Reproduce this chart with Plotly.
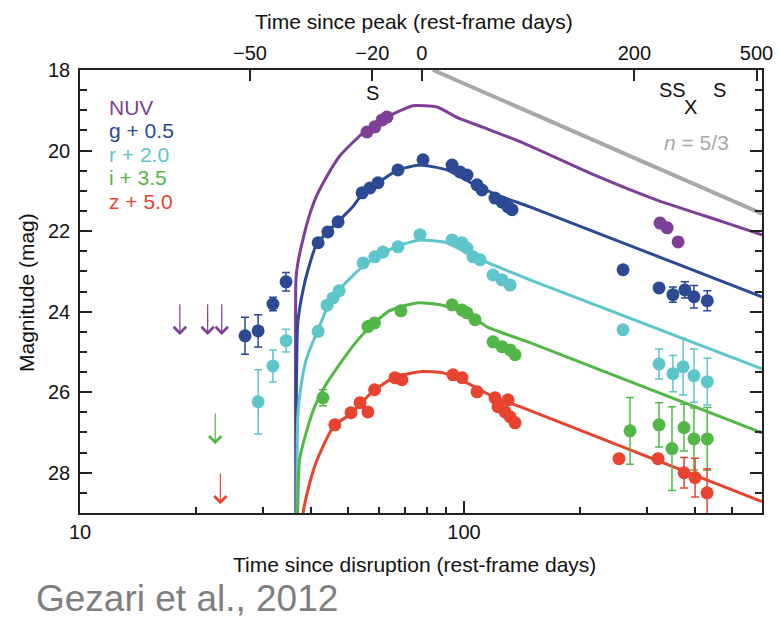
import math
import plotly.graph_objects as go

# ---------------- data ----------------
# model light curves (time since disruption [d], magnitude)
nuv_curve_t = [36.5, 36.5, 36.8, 37.7, 39.25, 41.25, 43.4, 47.5, 54.6, 63.0, 73.6, 85.1, 96.5, 114.8, 142.4, 212.9, 318.2, 472.7, 597]
nuv_curve_mag = [30, 23.21, 22.88, 22.38, 21.72, 21.14, 20.73, 20.13, 19.56, 19.17, 18.89, 18.92, 19.19, 19.46, 19.81, 20.56, 21.23, 21.77, 22.09]

g_curve_t = [36.6, 36.6, 36.9, 38.1, 39.25, 41.25, 44.2, 47.0, 51.4, 54.3, 57.25, 60.3, 67.3, 76.8, 90.3, 105.5, 124.1, 148.5, 597]
g_curve_mag = [30, 26.01, 24.28, 23.46, 22.96, 22.34, 22.01, 21.76, 21.39, 21.08, 20.90, 20.77, 20.48, 20.36, 20.48, 20.83, 21.13, 21.40, 23.63]

r_curve_t = [36.7, 36.9, 37.6, 38.8, 40.2, 41.7, 44.2, 47.0, 54.3, 60.4, 67.3, 76.8, 90.3, 105.5, 124.1, 148.5, 597]
r_curve_mag = [30, 26.60, 25.86, 25.20, 24.80, 24.45, 23.86, 23.48, 22.89, 22.59, 22.37, 22.22, 22.29, 22.62, 22.91, 23.21, 25.42]

i_curve_t = [36.8, 36.9, 37.3, 38.8, 40.85, 43.4, 47.0, 51.9, 56.2, 63.4, 69.4, 76.8, 86.6, 101.8, 114.8, 148.5, 597]
i_curve_mag = [30, 28.84, 27.68, 27.01, 26.36, 25.86, 25.36, 24.80, 24.43, 24.00, 23.86, 23.78, 23.83, 24.03, 24.38, 24.77, 27.01]

z_curve_t = [37.7, 38.1, 39.25, 40.85, 42.9, 46.1, 50.4, 53.5, 57.4, 63.4, 68.1, 76.8, 88.2, 101.8, 119.0, 139.9, 597]
z_curve_mag = [30, 29.0, 28.42, 27.84, 27.35, 26.81, 26.56, 26.31, 26.01, 25.72, 25.59, 25.49, 25.52, 25.77, 26.11, 26.36, 28.72]

# power-law reference line, n = 5/3
gray_t = [83.0, 597]
gray_mag = [18.0, 21.57]

# photometry
nuv_t = [55.9, 58.6, 61.2, 63.0, 324, 338, 361]
nuv_mag = [19.54, 19.41, 19.24, 19.17, 21.80, 21.92, 22.27]
nuv_err = [0, 0, 0, 0, 0, 0, 0]

g_t = [26.9, 29.1, 31.8, 34.4, 41.7, 44.2, 47.0, 54.3, 56.9, 59.7, 67.3, 78.2,
       93.1, 97.6, 101.8, 108.1, 111.4, 120.4, 125.6, 130.2, 133.4,
       259.5, 322, 350, 376, 397, 430]
g_mag = [24.60, 24.48, 23.81, 23.26, 22.29, 22.02, 21.77, 21.05, 20.93, 20.80, 20.48, 20.23,
         20.36, 20.53, 20.61, 20.85, 20.98, 21.18, 21.28, 21.40, 21.47,
         22.96, 23.41, 23.58, 23.46, 23.63, 23.73]
g_err = [0.46, 0.40, 0.17, 0.23, 0, 0, 0, 0, 0, 0, 0, 0,
         0, 0, 0, 0, 0, 0, 0, 0, 0,
         0, 0, 0.19, 0.20, 0.28, 0.25]

r_t = [29.1, 31.8, 34.4, 41.7, 44.0, 45.6, 47.3, 54.6, 58.6, 61.5, 67.3, 76.8,
       93.1, 98.8, 101.8, 105.5, 110.1, 119.0, 125.6, 131.8,
       259.5, 322, 350, 372, 397, 430]
r_mag = [26.24, 25.35, 24.72, 24.49, 23.84, 23.66, 23.48, 22.79, 22.64, 22.52, 22.39, 22.09,
         22.22, 22.29, 22.42, 22.64, 22.71, 23.09, 23.21, 23.34,
         24.45, 25.30, 25.54, 25.37, 25.59, 25.74]
r_err = [0.80, 0.40, 0.28, 0, 0, 0, 0, 0, 0, 0, 0, 0,
         0, 0, 0, 0, 0, 0, 0, 0,
         0, 0.37, 0.45, 0.70, 0.66, 0.58]

i_t = [42.9, 56.2, 58.5, 68.5, 93.1, 98.8, 101.8, 106.8, 119.0, 125.6, 131.8, 135.8,
       270.6, 322, 348, 374, 397, 430]
i_mag = [26.14, 24.37, 24.28, 23.98, 23.83, 23.96, 24.03, 24.20, 24.75, 24.87, 24.95, 25.07,
         26.96, 26.81, 27.40, 26.88, 27.16, 27.16]
i_err = [0.20, 0, 0, 0, 0, 0, 0, 0, 0, 0, 0, 0,
         0.83, 0.55, 1.04, 0.58, 0.77, 0.78]

z_t = [46.1, 50.8, 53.6, 56.2, 58.5, 66.1, 68.9,
       93.6, 98.8, 108.1, 120.4, 130.2, 122.6, 127.9, 131.8, 135.8,
       253.3, 320.1, 374.2, 399.6, 429.5]
z_mag = [26.81, 26.51, 26.26, 26.49, 25.94, 25.64, 25.69,
         25.57, 25.64, 25.99, 26.14, 26.19, 26.36, 26.49, 26.61, 26.76,
         27.65, 27.65, 28.00, 28.12, 28.50]
z_err = [0, 0, 0, 0, 0, 0, 0,
         0, 0, 0, 0, 0, 0, 0, 0, 0,
         0.10, 0.10, 0.38, 0.48, 0.60]

# upper limits (time, limiting magnitude)
nuv_ul_t = [18.2, 21.5, 23.4]
nuv_ul_mag = [23.78, 23.78, 23.78]
i_ul_t = [22.5]
i_ul_mag = [26.49]
z_ul_t = [23.2]
z_ul_mag = [27.98]

# spectroscopic / X-ray epochs
epoch_labels = ['S', 'SS', 'X', 'S']
epoch_t = [57.6, 349, 388, 464]

# legend labels
band_labels = ['NUV', 'g + 0.5', 'r + 2.0', 'i + 3.5', 'z + 5.0']

# axes ticks
peak_t = 77.7
top_tick_labels = [-50, -20, 0, 200, 500]
bottom_major = [10, 100]
bottom_minor = [20, 30, 40, 50, 60, 70, 80, 90, 200, 300, 400, 500]
y_major = [18, 20, 22, 24, 26, 28]

# ---------------- style ----------------
C_NUV = '#7e3f96'
C_G = '#2b4a93'
C_R = '#5ec5cb'
C_I = '#52b747'
C_Z = '#e8432e'
C_GRAY = '#a8a8a8'
FONT = 'Liberation Sans, Arial, Helvetica, sans-serif'
AX = '#222222'

W, H = 782, 618
L, R, T, B = 80, 762, 70, 513


def px(x):
    return (x - L) / (R - L)


def py(y):
    return (B - y) / (B - T)


fig = go.Figure()

fig.add_trace(go.Scatter(x=gray_t, y=gray_mag, mode='lines',
                         line=dict(color=C_GRAY, width=4), hoverinfo='skip'))

for ct, cm, col in [(nuv_curve_t, nuv_curve_mag, C_NUV), (g_curve_t, g_curve_mag, C_G),
                    (r_curve_t, r_curve_mag, C_R), (i_curve_t, i_curve_mag, C_I),
                    (z_curve_t, z_curve_mag, C_Z)]:
    fig.add_trace(go.Scatter(x=ct, y=cm, mode='lines',
                             line=dict(color=col, width=3, shape='spline', smoothing=0.5),
                             hoverinfo='skip'))

for tt, mm, ee, col in [(nuv_t, nuv_mag, nuv_err, C_NUV), (g_t, g_mag, g_err, C_G),
                        (r_t, r_mag, r_err, C_R), (i_t, i_mag, i_err, C_I),
                        (z_t, z_mag, z_err, C_Z)]:
    fig.add_trace(go.Scatter(x=tt, y=mm, mode='markers',
                             marker=dict(color=col, size=13, line=dict(width=0)),
                             error_y=dict(type='data', array=ee, visible=True, color=col,
                                          thickness=1.5, width=4),
                             hoverinfo='skip'))

# dummy trace to bind the top axis
fig.add_trace(go.Scatter(x=[peak_t], y=[18.5], xaxis='x2', mode='markers',
                         marker=dict(opacity=0), hoverinfo='skip'))

# upper-limit arrows
for tlist, mlist, col in [(nuv_ul_t, nuv_ul_mag, C_NUV), (i_ul_t, i_ul_mag, C_I),
                          (z_ul_t, z_ul_mag, C_Z)]:
    for t, m in zip(tlist, mlist):
        fig.add_annotation(x=math.log10(t), y=m + 0.8, ax=math.log10(t), ay=m,
                           xref='x', yref='y', axref='x', ayref='y', text='',
                           showarrow=True, arrowhead=4, arrowsize=2.0, arrowwidth=1.2,
                           arrowcolor=col, standoff=0, startstandoff=0)


def note(x, y, text, size, color, xanchor='center', angle=0, xref='paper'):
    fig.add_annotation(x=x, y=y, xref=xref, yref='paper', text=text, showarrow=False,
                       xanchor=xanchor, yanchor='middle', textangle=angle,
                       font=dict(family=FONT, size=size, color=color))


# legend-like labels
leg_cols = [C_NUV, C_G, C_R, C_I, C_Z]
leg_y = [107.5, 131, 154, 177, 201]
for lab, col, yy in zip(band_labels, leg_cols, leg_y):
    note(px(107), py(yy), lab, 21, col, xanchor='left')

# epoch markers
epoch_y = [93, 90, 107, 90]
for lab, t, yy in zip(epoch_labels, epoch_t, epoch_y):
    note(math.log10(t), py(yy), lab, 20, '#111111', xref='x')

note(px(696), py(142), '<i>n</i> = 5/3', 21, C_GRAY)

# axis titles and credit
note(px(414), py(21), 'Time since peak (rest-frame days)', 21, '#111111')
note(px(414), py(564), 'Time since disruption (rest-frame days)', 21, '#111111')
note(px(26), py(293), 'Magnitude (mag)', 21, '#111111', angle=-90)
note(px(34), py(598), 'Gezari et al., 2012', 37, '#7f7f7f', xanchor='left')

xr = [1, math.log10(597)]
tick_font = dict(family=FONT, size=20, color='#111111')

fig.update_layout(
    template='none',
    width=W, height=H,
    margin=dict(l=L, r=W - R, t=T, b=H - B, pad=0, autoexpand=False),
    paper_bgcolor='white', plot_bgcolor='white',
    showlegend=False,
    xaxis=dict(type='log', range=xr, tickmode='array', tickvals=bottom_major,
               ticktext=[str(v) for v in bottom_major], automargin=False,
               ticks='inside', ticklen=12, tickwidth=1.5, tickcolor=AX,
               showline=True, linecolor=AX, linewidth=1.5, mirror=False,
               showgrid=False, zeroline=False, tickfont=tick_font, ticklabelstandoff=0,
               minor=dict(tickmode='array', tickvals=bottom_minor, ticks='inside',
                          ticklen=6, tickwidth=1.5, tickcolor=AX, showgrid=False)),
    xaxis2=dict(type='log', range=xr, overlaying='x', side='top', tickmode='array',
                tickvals=[peak_t + v for v in top_tick_labels], automargin=False,
                ticktext=[str(v).replace('-', '\u2212') for v in top_tick_labels],
                ticks='inside', ticklen=11, tickwidth=1.5, tickcolor=AX,
                showline=True, linecolor=AX, linewidth=1.5,
                showgrid=False, zeroline=False, tickfont=tick_font, ticklabelstandoff=0),
    yaxis=dict(range=[29, 18], tickmode='array', tickvals=y_major, automargin=False,
               ticktext=[str(v) for v in y_major],
               ticks='inside', ticklen=12, tickwidth=1.5, tickcolor=AX,
               showline=True, linecolor=AX, linewidth=1.5, mirror='ticks',
               showgrid=False, zeroline=False, tickfont=tick_font, ticklabelstandoff=4,
               minor=dict(tickmode='linear', tick0=18, dtick=0.5, ticks='inside',
                          ticklen=7, tickwidth=1.5, tickcolor=AX, showgrid=False)),
)

fig.write_html('out.html', config={'displayModeBar': False},
               post_script="document.body.style.margin='0px';")
